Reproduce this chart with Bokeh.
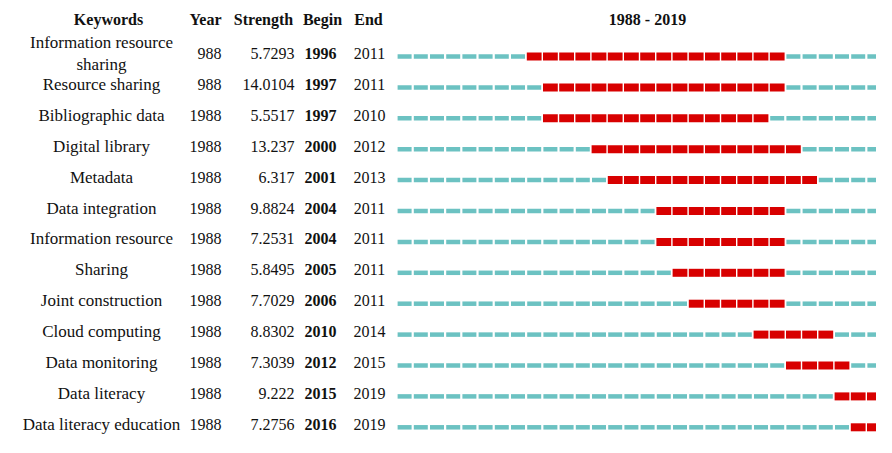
from bokeh.plotting import figure
from bokeh.models import Range1d
from bokeh.core.properties import value
from bokeh.embed import file_html
from bokeh.resources import INLINE

# ---- data ----
keywords = ["Information resource\nsharing", "Resource sharing", "Bibliographic data",
            "Digital library", "Metadata", "Data integration", "Information resource",
            "Sharing", "Joint construction", "Cloud computing", "Data monitoring",
            "Data literacy", "Data literacy education"]
year_labels = ["988", "988", "1988", "1988", "1988", "1988", "1988",
               "1988", "1988", "1988", "1988", "1988", "1988"]
strength = ["5.7293", "14.0104", "5.5517", "13.237", "6.317", "9.8824", "7.2531",
            "5.8495", "7.7029", "8.8302", "7.3039", "9.222", "7.2756"]
begin = [1996, 1997, 1997, 2000, 2001, 2004, 2004, 2005, 2006, 2010, 2012, 2015, 2016]
end = [2011, 2011, 2010, 2012, 2013, 2011, 2011, 2011, 2011, 2014, 2015, 2019, 2019]
first_year, last_year = 1988, 2019
headers = ["Keywords", "Year", "Strength", "Begin", "End"]

# ---- layout (pixels) ----
W, H = 876, 437
PX_PER_YEAR = 16.2
X0_PX = 396.0          # px of start of first_year
ROW0_PX = 56.0         # px of first row's bar centre
ROW_STEP = 30.9

xs = first_year - X0_PX / PX_PER_YEAR
xe = xs + W / PX_PER_YEAR
ys = -ROW0_PX / ROW_STEP
ye = (H - ROW0_PX) / ROW_STEP

def xd(px):
    return xs + px / PX_PER_YEAR

def yd(py):
    return (py - ROW0_PX) / ROW_STEP

p = figure(width=W, height=H, output_backend="svg", toolbar_location=None,
           x_range=Range1d(xs, xe), y_range=Range1d(ye, ys),
           min_border=0, outline_line_color=None, background_fill_color="white")
p.axis.visible = False
p.grid.visible = False

# ---- bars ----
tx, ty, rx, ry = [], [], [], []
for i, (b, e) in enumerate(zip(begin, end)):
    for yr in range(first_year, last_year + 1):
        if b <= yr <= e:
            rx.append(yr + 0.5); ry.append(i)
        else:
            tx.append(yr + 0.5); ty.append(i)

p.rect(x=tx, y=ty, width=14.0 / PX_PER_YEAR, height=4.5, height_units="screen",
       fill_color="#6cc2c2", line_color=None)
p.rect(x=rx, y=ry, width=14.8 / PX_PER_YEAR, height=8, height_units="screen",
       fill_color="#d80000", line_color=None)

# ---- text columns ----
rows = list(range(len(keywords)))
FONT = value("Liberation Serif")
common = dict(text_font=FONT, text_font_size="16px", text_color="#111111",
              text_baseline="middle", y_offset=-3)

kw = dict(common); kw["text_font_size"] = "17px"
p.text(x=[xd(101)] * len(rows), y=rows, text=keywords, text_align="center",
       text_line_height=1.15, **kw)
p.text(x=[xd(221)] * len(rows), y=rows, text=year_labels, text_align="right", **common)
p.text(x=[xd(294)] * len(rows), y=rows, text=strength, text_align="right", **common)
p.text(x=[xd(320)] * len(rows), y=rows, text=[str(v) for v in begin], text_align="center",
       text_font_style="bold", **common)
p.text(x=[xd(369)] * len(rows), y=rows, text=[str(v) for v in end], text_align="center",
       **common)

# ---- headers ----
hy = yd(19)
p.text(x=[xd(108), xd(205), xd(263), xd(322), xd(368)], y=[hy] * 5, text=headers,
       text_align="center", text_baseline="middle", text_font=FONT,
       text_font_size="16px", text_font_style="bold", text_color="#111111")
p.text(x=[xd(647)], y=[hy], text=[f"{first_year} - {last_year}"], text_align="center",
       text_baseline="middle", text_font=FONT, text_font_size="16px",
       text_font_style="bold", text_color="#111111")

open("out.html", "w").write(file_html(p, INLINE))
